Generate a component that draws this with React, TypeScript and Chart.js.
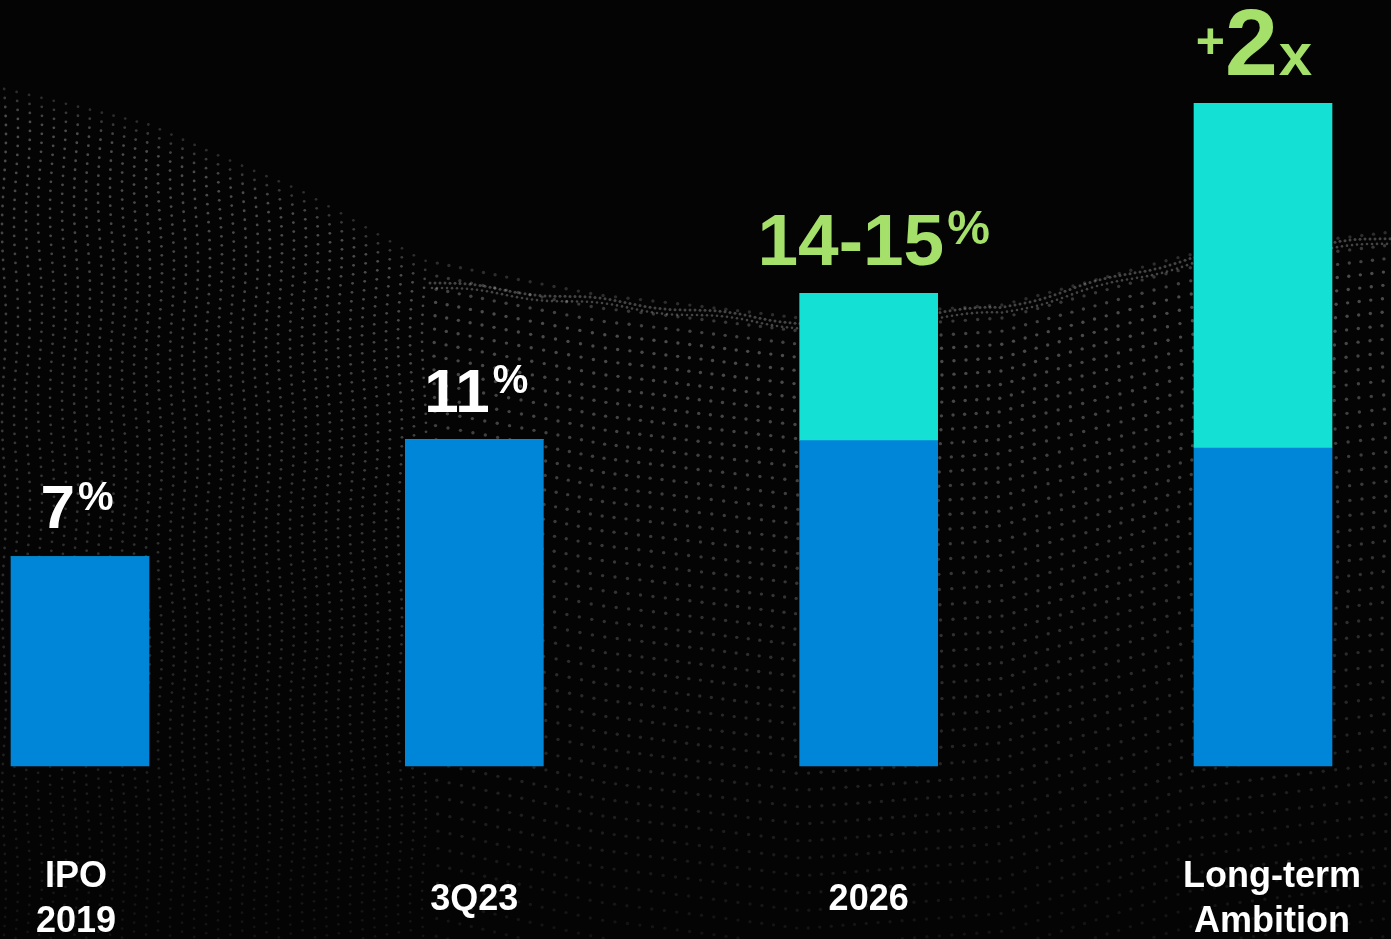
import React, { useEffect, useRef } from "react";
import { Chart, registerables } from "chart.js";

Chart.register(...registerables);

const categories: string[][] = [["IPO", "2019"], ["3Q23"], ["2026"], ["Long-term", "Ambition"]];
const baseValues: number[] = [7.05, 10.98, 10.95, 10.7];
const growthValues: number[] = [0, 0, 4.95, 11.6];
const labelPrefix: string[] = ["", "", "", "+"];
const labelMain: string[] = ["7", "11", "14-15", "2"];
const labelSuffix: string[] = ["%", "%", "%", "x"];
const labelGreen: boolean[] = [false, false, true, true];

const BLUE = "#0086D8";
const CYAN = "#14E0D4";
const GREEN = "#A4E06A";
const FONT = '"Liberation Sans", Arial, sans-serif';

const W = 1391;
const H = 939;

function interp(pts: number[][], x: number): number {
  if (x <= pts[0][0]) return pts[0][1];
  for (let i = 0; i < pts.length - 1; i++) {
    const [x0, y0] = pts[i];
    const [x1, y1] = pts[i + 1];
    if (x >= x0 && x <= x1) {
      const t = (x - x0) / (x1 - x0);
      return y0 + (y1 - y0) * t;
    }
  }
  return pts[pts.length - 1][1];
}

const TOP_PTS = [[0, 88], [150, 125], [300, 190], [420, 260], [600, 295], [800, 318], [1000, 305], [1190, 255], [1391, 232]];
const RIDGE_PTS = [[430, 282], [600, 300], [800, 322], [1000, 308], [1190, 258], [1391, 238]];

const backgroundPlugin = {
  id: "bgWave",
  beforeDraw(chart: any) {
    const ctx = chart.ctx as CanvasRenderingContext2D;
    ctx.save();
    ctx.fillStyle = "#040404";
    ctx.fillRect(0, 0, chart.width, chart.height);
    for (let x = 4; x < chart.width; x += 12) {
      const top = interp(TOP_PTS, x);
      const dense = x < 430;
      let y = top;
      let k = 0;
      while (y < chart.height) {
        const depth = (y - top) / (chart.height - top);
        let a = 0.3 * (1 - depth * 0.8);
        if (k < 3) a *= 0.55 + k * 0.15;
        const wob = Math.sin(x * 0.02 + k * 0.3) * 2;
        ctx.fillStyle = `rgba(255,255,255,${a.toFixed(3)})`;
        ctx.beginPath();
        ctx.arc(x + wob, y, dense ? 1.4 : 1.7, 0, Math.PI * 2);
        ctx.fill();
        y += dense ? 9 : 13 + depth * 5;
        k++;
      }
    }
    for (let x = 430; x < chart.width; x += 5) {
      const y = interp(RIDGE_PTS, x) + Math.sin(x * 0.05) * 2;
      ctx.fillStyle = "rgba(255,255,255,0.26)";
      ctx.beginPath();
      ctx.arc(x, y, 1.5, 0, Math.PI * 2);
      ctx.fill();
      ctx.beginPath();
      ctx.arc(x + 2, y + 5, 1.3, 0, Math.PI * 2);
      ctx.fill();
    }
    ctx.restore();
  },
};

const labelsPlugin = {
  id: "valueLabels",
  afterDatasetsDraw(chart: any) {
    const ctx = chart.ctx as CanvasRenderingContext2D;
    const xs = chart.scales.x;
    const ys = chart.scales.y;
    const nudge = [-3, 2, 5, -9];
    ctx.save();
    ctx.textBaseline = "alphabetic";
    ctx.textAlign = "left";
    for (let i = 0; i < categories.length; i++) {
      const cx = xs.getPixelForValue(i) + nudge[i];
      const total = baseValues[i] + growthValues[i];
      const topPx = ys.getPixelForValue(total);
      const green = labelGreen[i];
      const mainSize = i === 3 ? 95 : green ? 73 : 62;
      const supSize = i === 3 ? 60 : green ? 48 : 40;
      const preSize = 50;
      const baseline = topPx - 28;
      ctx.fillStyle = green ? GREEN : "#FFFFFF";
      ctx.font = `bold ${preSize}px ${FONT}`;
      const pw = labelPrefix[i] ? ctx.measureText(labelPrefix[i]).width : 0;
      ctx.font = `bold ${mainSize}px ${FONT}`;
      const mw = ctx.measureText(labelMain[i]).width;
      ctx.font = `bold ${supSize}px ${FONT}`;
      const sw = ctx.measureText(labelSuffix[i]).width;
      const gap = i === 3 ? 1 : 3;
      const totalW = pw + mw + sw + gap;
      let x = cx - totalW / 2;
      if (labelPrefix[i]) {
        ctx.font = `bold ${preSize}px ${FONT}`;
        ctx.fillText(labelPrefix[i], x, baseline - 17);
        x += pw;
      }
      ctx.font = `bold ${mainSize}px ${FONT}`;
      ctx.fillText(labelMain[i], x, baseline);
      x += mw + gap;
      ctx.font = `bold ${supSize}px ${FONT}`;
      if (i === 3) {
        ctx.fillText(labelSuffix[i], x, baseline);
      } else {
        ctx.fillText(labelSuffix[i], x, baseline - mainSize * 0.3);
      }
    }
    ctx.fillStyle = "#FFFFFF";
    ctx.font = `bold 36px ${FONT}`;
    ctx.textAlign = "center";
    ctx.textBaseline = "middle";
    const centerY = chart.chartArea.bottom + 134;
    const lh = 45;
    for (let i = 0; i < categories.length; i++) {
      const cx = xs.getPixelForValue(i) + (i === 0 ? -4 : i === 3 ? 9 : 0);
      const lines = categories[i];
      const startY = centerY - ((lines.length - 1) * lh) / 2;
      lines.forEach((ln, j) => ctx.fillText(ln, cx, startY + j * lh));
    }
    ctx.restore();
  },
};

export default function App() {
  const ref = useRef<HTMLCanvasElement>(null);
  useEffect(() => {
    if (!ref.current) return;
    const chart = new Chart(ref.current, {
      type: "bar",
      data: {
        labels: categories,
        datasets: [
          {
            label: "Base",
            data: baseValues,
            backgroundColor: BLUE,
            barThickness: 138,
            clip: false as any,
            borderWidth: 0,
          },
          {
            label: "Growth",
            data: growthValues,
            backgroundColor: CYAN,
            barThickness: 138,
            clip: false as any,
            borderWidth: 0,
          },
        ],
      },
      options: {
        animation: false,
        responsive: false,
        devicePixelRatio: 1,
        layout: { padding: { left: 80, right: 128, top: 23, bottom: 173 } },
        plugins: { legend: { display: false }, tooltip: { enabled: false } },
        scales: {
          x: { display: false, stacked: true, offset: false },
          y: { display: false, stacked: true, min: 0, max: 25 },
        },
      },
      plugins: [backgroundPlugin, labelsPlugin],
    });
    return () => chart.destroy();
  }, []);
  return (
    <div style={{ position: "fixed", left: 0, top: 0, width: W, height: H, background: "#000" }}>
      <canvas ref={ref} width={W} height={H} style={{ display: "block" }} />
    </div>
  );
}
